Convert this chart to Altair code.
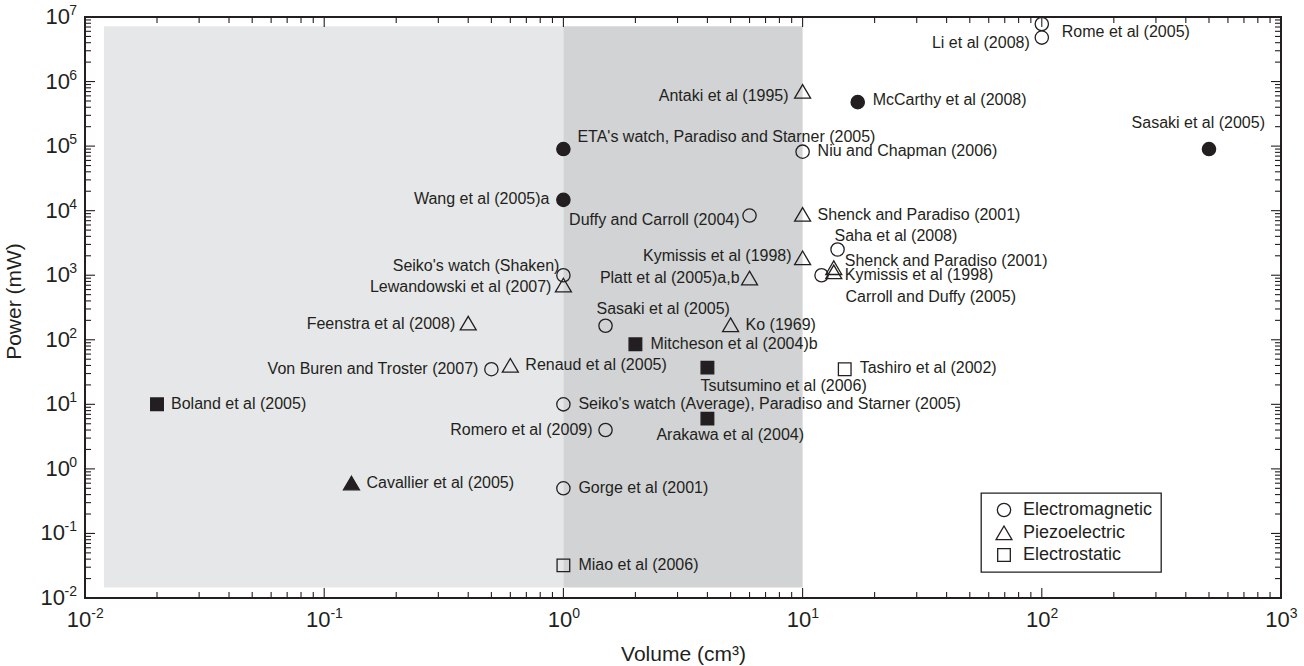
import altair as alt
import pandas as pd

# ---------------- data ----------------
STUDIES = [
    "Rome et al (2005)", "Li et al (2008)", "Antaki et al (1995)", "McCarthy et al (2008)",
    "Sasaki et al (2005)", "ETA's watch, Paradiso and Starner (2005)", "Niu and Chapman (2006)",
    "Wang et al (2005)a", "Duffy and Carroll (2004)", "Shenck and Paradiso (2001)",
    "Saha et al (2008)", "Kymissis et al (1998)", "Shenck and Paradiso (2001)",
    "Kymissis et al (1998)", "Carroll and Duffy (2005)", "Platt et al (2005)a,b",
    "Seiko's watch (Shaken)", "Lewandowski et al (2007)", "Feenstra et al (2008)",
    "Sasaki et al (2005)", "Ko (1969)", "Mitcheson et al (2004)b",
    "Von Buren and Troster (2007)", "Renaud et al (2005)", "Tsutsumino et al (2006)",
    "Tashiro et al (2002)", "Boland et al (2005)",
    "Seiko's watch (Average), Paradiso and Starner (2005)", "Romero et al (2009)",
    "Arakawa et al (2004)", "Cavallier et al (2005)", "Gorge et al (2001)", "Miao et al (2006)",
]
VOLUME = [100, 100, 10, 17, 500, 1, 10, 1, 6, 10, 14, 10, 13.5, 13.5, 12, 6, 1, 1, 0.4,
          1.5, 5, 2, 0.5, 0.6, 4, 15, 0.02, 1, 1.5, 4, 0.13, 1, 1]
POWER = [7.8e6, 4.8e6, 7e5, 4.8e5, 9e4, 9e4, 8.2e4, 1.47e4, 8.4e3, 8.7e3, 2.5e3, 1.85e3,
         1.3e3, 1.12e3, 1.0e3, 900, 1000, 700, 180, 165, 170, 85, 35, 40, 37, 35, 10, 10,
         4, 6, 0.6, 0.5, 0.032]
TYPE = ["Electromagnetic", "Electromagnetic", "Piezoelectric", "Electromagnetic",
        "Electromagnetic", "Electromagnetic", "Electromagnetic", "Electromagnetic",
        "Electromagnetic", "Piezoelectric", "Electromagnetic", "Piezoelectric",
        "Piezoelectric", "Piezoelectric", "Electromagnetic", "Piezoelectric",
        "Electromagnetic", "Piezoelectric", "Piezoelectric", "Electromagnetic",
        "Piezoelectric", "Electrostatic", "Electromagnetic", "Piezoelectric",
        "Electrostatic", "Electrostatic", "Electrostatic", "Electromagnetic",
        "Electromagnetic", "Electrostatic", "Piezoelectric", "Electromagnetic",
        "Electrostatic"]
FILLED = ["no", "no", "no", "yes", "yes", "yes", "no", "yes", "no", "no", "no", "no",
          "no", "no", "no", "no", "no", "no", "no", "no", "no", "yes", "no", "no",
          "yes", "no", "yes", "no", "no", "yes", "yes", "no", "no"]
TYPES = ["Electromagnetic", "Piezoelectric", "Electrostatic"]

# shaded volume bands
BAND_NAME = ["small", "medium"]
BAND_X0 = [0.012, 1]
BAND_X1 = [1, 10]
BAND_Y0 = [0.0145, 0.0145]
BAND_Y1 = [7.2e6, 7.2e6]

# axis ticks and labels (base "10" with superscript exponent)
X_TICKS = [0.01, 0.1, 1, 10, 100, 1000]
X_TICK_EXP = ["-2", "-1", "0", "1", "2", "3"]
Y_TICKS = [0.01, 0.1, 1, 10, 100, 1e3, 1e4, 1e5, 1e6, 1e7]
Y_TICK_EXP = ["-2", "-1", "0", "1", "2", "3", "4", "5", "6", "7"]
TICK_BASE = "10"
X_MINOR = [k * 10.0 ** n for n in range(-2, 3) for k in range(2, 10)]
Y_MINOR = [k * 10.0 ** n for n in range(-2, 7) for k in range(2, 10)]

# ---------------- layout / style ----------------
# label placement (pixel offsets from the marker, text alignment)
LABEL_DX = [20, -12, -14, 15, 56, 14, 15, -14, -10, 15, -3, -11, 11, 11, 24, -10, -4, -12,
            -13, -9, 15, 15, -13, 15, -7, 15, 14, 15, -13, -51, 15, 15, 15]
LABEL_DY = [8, 5, 4, -2, -26, -12, -1, -1, 4, 0, -14, -2, -7, 3, 22, 0, -9, 2, 1, -17, 0,
            0, 0, 0, 18, -1, 0, 0, 0, 16, 0, 0, 0]
LABEL_ALIGN = ["left", "right", "right", "left", "right", "left", "left", "right", "right",
               "left", "left", "right", "left", "left", "left", "right", "right", "right",
               "right", "left", "left", "left", "right", "left", "left", "left", "left",
               "left", "right", "left", "left", "left", "left"]

W, H = 1196, 581
PXX, PXY = W / 5.0, H / 9.0
INK = "#231f20"
FONT = "Liberation Sans"
SYM_SIZE = 177
SHAPES = [
    "M-1,0A1,1,0,1,0,1,0A1,1,0,1,0,-1,0Z",                 # circle
    "M0,-1.05L1.2,1.0L-1.2,1.0Z",                           # triangle
    "M-0.95,-0.95L0.95,-0.95L0.95,0.95L-0.95,0.95Z",        # square
]
EXP_W = "(7*length(datum.e) - (indexof(datum.e, '-') == 0 ? 2 : 0))"

pts = pd.DataFrame({"study": STUDIES, "volume": VOLUME, "power": POWER, "type": TYPE,
                    "filled": FILLED, "ldx": LABEL_DX, "ldy": LABEL_DY,
                    "lalign": LABEL_ALIGN})
bands = pd.DataFrame({"name": BAND_NAME, "x0": BAND_X0, "x1": BAND_X1,
                      "y0": BAND_Y0, "y1": BAND_Y1})
xt = pd.DataFrame({"v": X_TICKS, "e": X_TICK_EXP})
yt = pd.DataFrame({"v": Y_TICKS, "e": Y_TICK_EXP})

XS = alt.Scale(type="log", domain=[0.01, 1000], nice=False)
YS = alt.Scale(type="log", domain=[0.01, 1e7], nice=False)

X_AXIS = alt.Axis(values=X_TICKS, labels=False, title="Volume (cm³)", ticks=False,
                  tickSize=0, domain=False, grid=False,
                  titleFont=FONT, titleFontSize=21, titleColor=INK, titleFontWeight="normal",
                  titleY=62, titleBaseline="alphabetic")
Y_AXIS = alt.Axis(values=Y_TICKS, labels=False, title="Power (mW)", ticks=False,
                  tickSize=0, domain=False, grid=False,
                  titleFont=FONT, titleFontSize=21, titleColor=INK, titleFontWeight="normal",
                  titleX=-61, titleY=284, titleAngle=270, titleBaseline="bottom",
                  titleAlign="center")

LEG = alt.Legend(title=None, orient="none", legendX=896, legendY=476, strokeColor=INK,
                 fillColor="white", padding=8, labelFont=FONT,
                 labelFontSize=18, labelColor=INK, symbolStrokeColor=INK,
                 symbolStrokeWidth=1.3, symbolFillColor="transparent", rowPadding=3,
                 symbolOffset=6, labelOffset=10, symbolSize=SYM_SIZE,
                 labelExpr="datum.label + '\u00a0\u00a0\u00a0\u00a0'")

shade = alt.Chart(bands).mark_rect(opacity=1).encode(
    x=alt.X("x0:Q", scale=XS, axis=X_AXIS),
    x2="x1:Q",
    y=alt.Y("y0:Q", scale=YS, axis=Y_AXIS),
    y2="y1:Q",
    color=alt.Color("name:N", scale=alt.Scale(domain=BAND_NAME,
                                              range=["#e6e7e8", "#d1d3d4"]), legend=None),
)


def xticks(vals, length, top):
    if top:
        ys = dict(y=alt.value(0), y2=alt.value(length))
    else:
        ys = dict(y=alt.value(H), y2=alt.value(H - length))
    return alt.Chart(pd.DataFrame({"v": vals})).mark_rule(color=INK, strokeWidth=1.1).encode(
        x=alt.X("v:Q", scale=XS, axis=X_AXIS), **ys)


def yticks(vals, length, right):
    if right:
        xs = dict(x=alt.value(W), x2=alt.value(W - length))
    else:
        xs = dict(x=alt.value(0), x2=alt.value(length))
    return alt.Chart(pd.DataFrame({"v": vals})).mark_rule(color=INK, strokeWidth=1.1).encode(
        y=alt.Y("v:Q", scale=YS, axis=Y_AXIS), **xs)


tick_layers = [
    xticks(X_TICKS, 10, False), xticks(X_MINOR, 6, False),
    xticks(X_TICKS, 10, True), xticks(X_MINOR, 6, True),
    yticks(Y_TICKS, 10, False), yticks(Y_MINOR, 6, False),
    yticks(Y_TICKS, 10, True), yticks(Y_MINOR, 6, True),
]

# tick labels: "10" plus a raised, smaller exponent
xlab = alt.Chart(xt).transform_calculate(
    lx=f"datum.v * pow(10, ((24.5 - {EXP_W}) / 2) / {PXX})")
xbase = xlab.mark_text(align="right", baseline="alphabetic", font=FONT, fontSize=22,
                       color=INK).encode(
    x=alt.X("lx:Q", scale=XS, axis=X_AXIS), y=alt.value(H + 29), text=alt.value(TICK_BASE))
xexp = xlab.mark_text(align="left", baseline="alphabetic", font=FONT, fontSize=14,
                      color=INK).encode(
    x=alt.X("lx:Q", scale=XS, axis=X_AXIS), y=alt.value(H + 20), text="e:N")

ylab = alt.Chart(yt).transform_calculate(px=f"-8 - {EXP_W}")
ybase = ylab.mark_text(align="right", baseline="alphabetic", font=FONT, fontSize=22,
                       color=INK, dy=7).encode(
    x=alt.X("px:Q", scale=None), y=alt.Y("v:Q", scale=YS, axis=Y_AXIS),
    text=alt.value(TICK_BASE))
yexp = ylab.mark_text(align="right", baseline="alphabetic", font=FONT, fontSize=14,
                      color=INK, dy=-2).encode(
    x=alt.value(-8), y=alt.Y("v:Q", scale=YS, axis=Y_AXIS), text="e:N")

points = alt.Chart(pts).mark_point(opacity=1, strokeWidth=1.3, color=INK, stroke=INK,
                                   size=SYM_SIZE).encode(
    x=alt.X("volume:Q", scale=XS, axis=X_AXIS),
    y=alt.Y("power:Q", scale=YS, axis=Y_AXIS),
    shape=alt.Shape("type:N", scale=alt.Scale(domain=TYPES, range=SHAPES), legend=LEG),
    fill=alt.Fill("filled:N", scale=alt.Scale(domain=["yes", "no"],
                                              range=[INK, "transparent"]), legend=None),
)

label_base = alt.Chart(pts).transform_calculate(
    lx=f"datum.volume * pow(10, datum.ldx / {PXX})",
    ly=f"datum.power * pow(10, -datum.ldy / {PXY})",
)


def labels(align):
    return label_base.transform_filter(f"datum.lalign == '{align}'").mark_text(
        align=align, baseline="middle", font=FONT, fontSize=16, color=INK).encode(
        x=alt.X("lx:Q", scale=XS, axis=X_AXIS),
        y=alt.Y("ly:Q", scale=YS, axis=Y_AXIS),
        text="study:N",
    )


chart = alt.layer(shade, *tick_layers, xbase, xexp, ybase, yexp, points,
                  labels("left"), labels("right")).properties(
    width=W, height=H,
    autosize=alt.AutoSizeParams(type="none"),
    padding={"left": 85, "top": 17, "right": 23, "bottom": 68},
    background="white",
).configure_view(stroke=INK, strokeWidth=2).configure_legend(strokeWidth=1.3)

chart.save("out.html", embed_options={"renderer": "svg", "actions": False})
